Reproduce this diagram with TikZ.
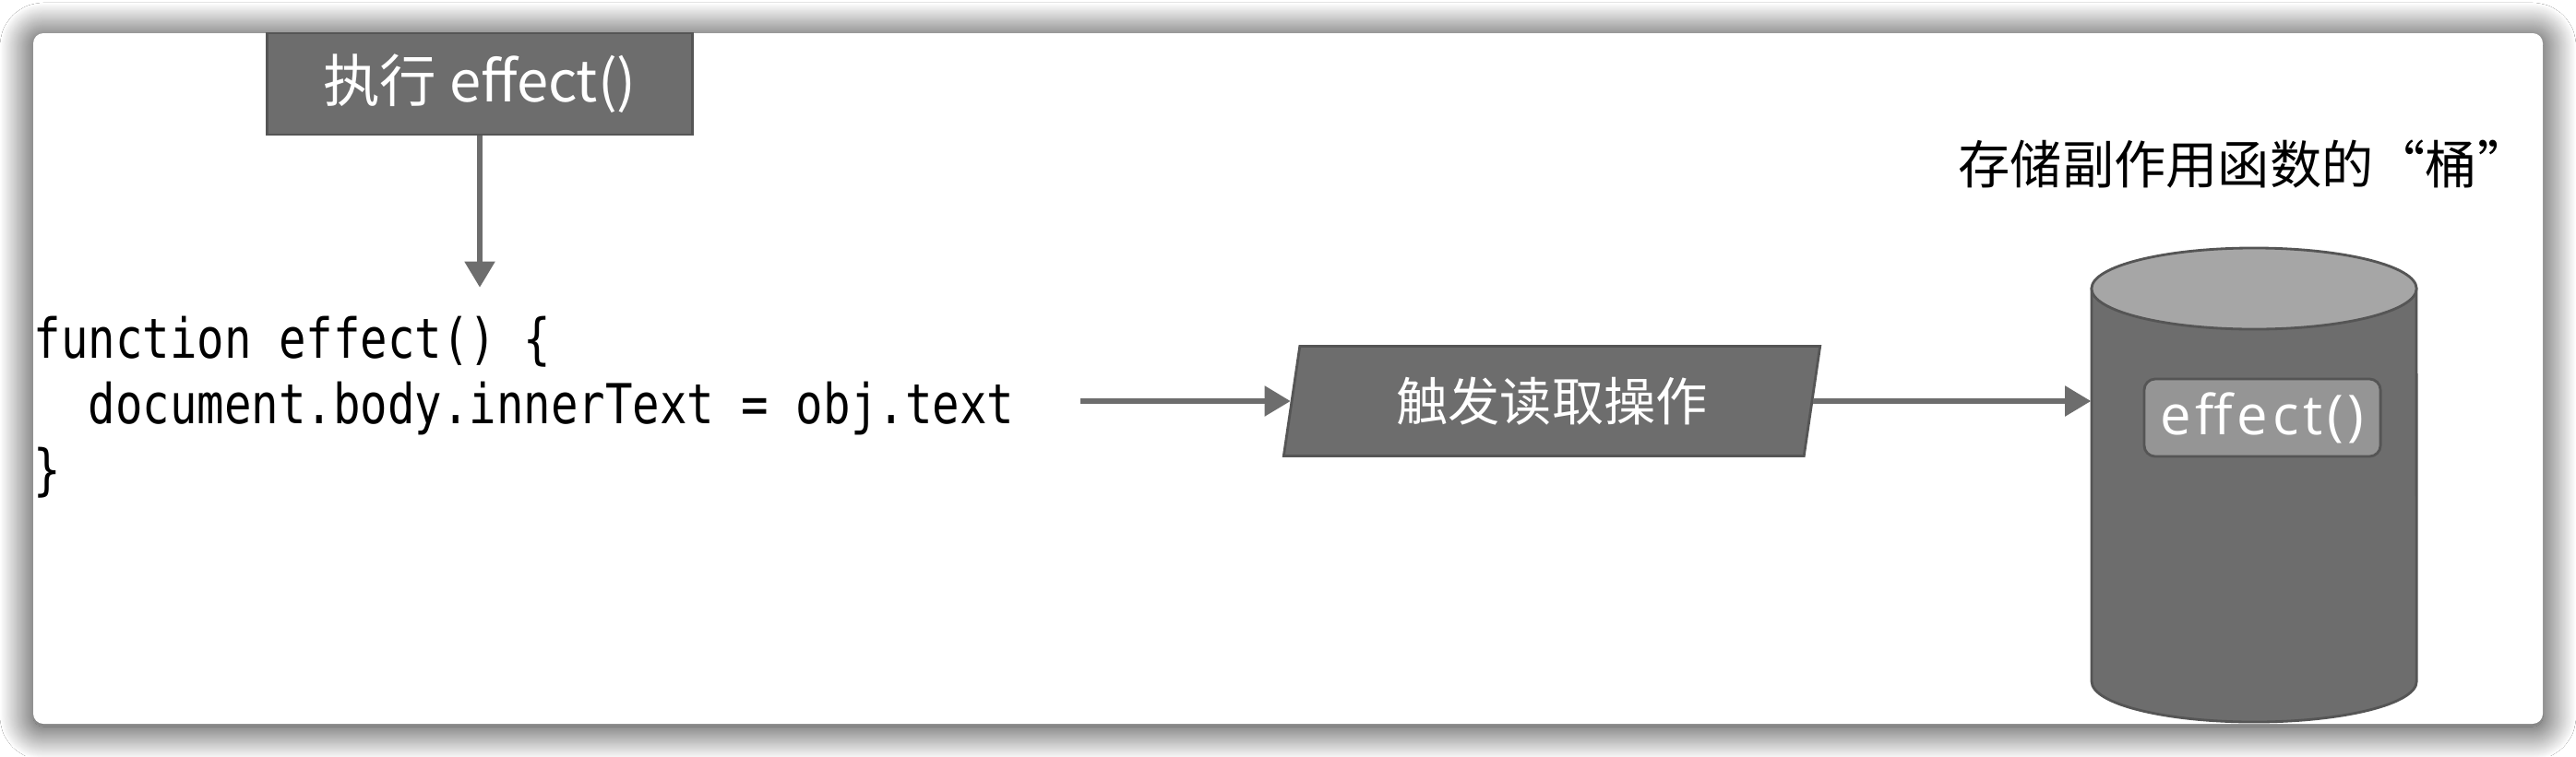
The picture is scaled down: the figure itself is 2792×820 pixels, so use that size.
\documentclass[tikz,border=0pt]{standalone}
\usepackage{fontspec}
\setmainfont{Noto Sans CJK SC}
\newfontfamily\cjk{Noto Sans CJK SC}
\newfontfamily\codefont[FakeStretch=0.82]{DejaVu Sans Mono}
\newfontfamily\tagfont[LetterSpace=8]{Open Sans}
\usetikzlibrary{positioning,shapes.geometric,arrows.meta,shadows.blur}

\definecolor{boxgray}{HTML}{6D6D6D}
\definecolor{edgegray}{HTML}{555555}
\definecolor{lidgray}{HTML}{A6A6A6}
\definecolor{taggray}{HTML}{959595}

\begin{document}
\begin{tikzpicture}[x=0.01cm, y=0.01cm]
    \tikzstyle{dark} = [draw=edgegray, line width=0.8pt, fill=boxgray, text=white, font=\cjk\fontsize{16}{19}\selectfont]
    \tikzstyle{flow} = [draw=boxgray, line width=1.5pt, -{Triangle[length=0.28cm, width=0.32cm]}]

    % page and card
    \useasboundingbox (0,0) rectangle (2792,820);
    \fill[white] (0,0) rectangle (2792,820);
    \fill[white, rounded corners=0.11cm, blur shadow={shadow xshift=0pt, shadow yshift=-0.03cm, shadow blur radius=0.36cm,
        shadow blur steps=40, shadow opacity=90}] (36,35) rectangle (2756,784);

    \node[dark, rectangle, minimum width=4.6cm, minimum height=1.1cm, font=\cjk\fontsize{17.5}{20}\selectfont] (exec) at (520,729) {执行 effect()};
    \node[anchor=west, align=left, inner sep=0pt, font=\codefont\fontsize{17}{20.2}\selectfont] (code) at (36,378)
        {function effect() \{\\\ \ document.body.innerText = obj.text\\\}};
    \node[dark, trapezium, trapezium left angle=77, trapezium right angle=103, trapezium stretches body,
        minimum width=5.81cm, minimum height=1.19cm] (trig) at (1682,385) {触发读取操作};

    % the bucket
    \node[minimum width=3.52cm, minimum height=5.14cm, inner sep=0pt] (bucket) at (2443,294) {};
    \draw[draw=edgegray, line width=0.8pt, fill=boxgray] (2267,507) -- (2267,81)
        arc[start angle=180, end angle=360, x radius=1.76cm, y radius=0.44cm] -- (2619,507) -- cycle;
    \draw[draw=edgegray, line width=0.8pt, fill=lidgray] (2443,507) ellipse [x radius=1.76cm, y radius=0.44cm];
    \node[draw=edgegray, line width=0.8pt, fill=taggray, rounded corners=0.12cm, minimum width=2.56cm, minimum height=0.84cm,
        text=white, font=\tagfont\fontsize{17}{20}\selectfont] (tag) at (2452,367) {effect()};
    \node[font=\cjk\fontsize{16}{19}\selectfont] (title) at (2432,642) {存储副作用函数的“桶”};

    \draw[flow, shorten >=0.31cm] (exec) -- (exec |- code.north);
    \draw[flow, shorten <=0.71cm] (code.east |- trig.west) -- (trig.west);
    \draw[flow] (trig.east) -- (trig.east -| bucket.west);
\end{tikzpicture}
\end{document}
